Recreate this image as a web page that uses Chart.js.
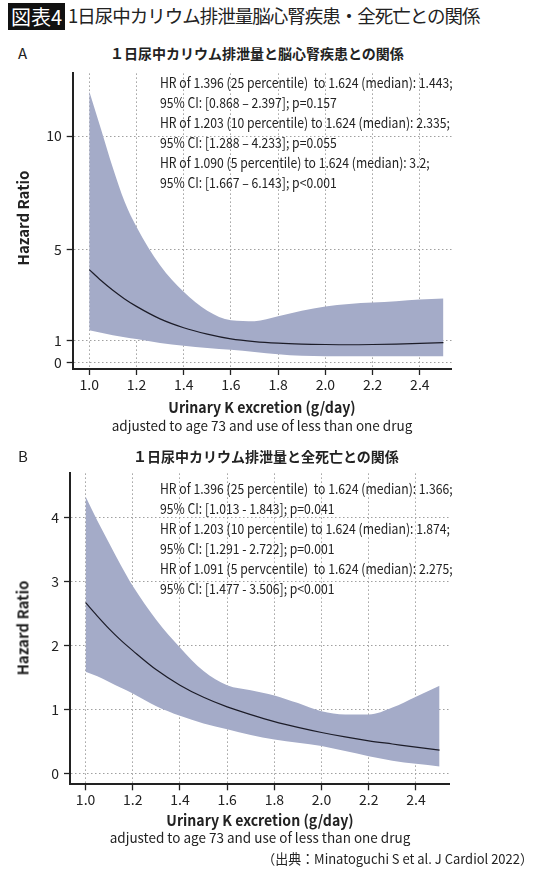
<!DOCTYPE html>
<html>
<head>
<meta charset="utf-8">
<script src="https://cdn.jsdelivr.net/npm/chart.js@4.4.0/dist/chart.umd.min.js"></script>
<style>
  body { margin: 0; background: #fff; }
  #page { position: relative; width: 540px; height: 870px; overflow: hidden;
          font-family: "Noto Sans CJK JP", "Noto Sans", sans-serif; color: #222; }
  .t { position: absolute; white-space: nowrap; }
  .box { left: 8px; top: 3px; width: 57px; height: 27px; background: #111; color: #fff;
         font-size: 20px; line-height: 27px; text-align: center; }
  .title { left: 68px; top: 2px; font-size: 18.5px; letter-spacing: -1px; line-height: 27px; }
  .panel { font-size: 15px; line-height: 20px; }
  .sub { font-size: 14px; font-weight: bold; line-height: 20px; }
  .note { font-size: 14px; line-height: 20px; transform: scaleX(0.87); transform-origin: left top; }
  .src { font-size: 13.5px; line-height: 20px; transform: scaleX(0.96); transform-origin: right top; }
  .xt { font-size: 15px; font-weight: bold; line-height: 18px; transform: translateX(-50%) scaleX(0.94); }
  .xs { font-size: 13.5px; line-height: 18px; transform: translateX(-50%); }
  .yt { font-size: 15px; font-weight: bold; transform: translate(-50%, -50%) rotate(-90deg); }
  canvas { position: absolute; left: 0; }
</style>
</head>
<body>
<div id="page">
  <div class="t box">図表4</div>
  <div class="t title">1日尿中カリウム排泄量脳心腎疾患・全死亡との関係</div>

  <div class="t panel" style="left:18px; top:43px;">A</div>
  <div class="t sub" style="left:110px; top:43px;">１日尿中カリウム排泄量と脳心腎疾患との関係</div>
  <canvas id="chartA" width="540" height="340" style="top:60px;"></canvas>
  <div class="t note" style="left:160px; top:72px;">
    HR of 1.396 (25 percentile)&nbsp; to 1.624 (median): 1.443;<br>
    95% CI: [0.868 – 2.397]; p=0.157<br>
    HR of 1.203 (10 percentile) to 1.624 (median): 2.335;<br>
    95% CI: [1.288 – 4.233]; p=0.055<br>
    HR of 1.090 (5 percentile) to 1.624 (median): 3.2;<br>
    95% CI: [1.667 – 6.143]; p&lt;0.001
  </div>
  <div class="t yt" style="left:22px; top:218px;">Hazard Ratio</div>
  <div class="t xt" style="left:262px; top:398px;">Urinary K excretion (g/day)</div>
  <div class="t xs" style="left:262px; top:416px;">adjusted to age 73 and use of less than one drug</div>

  <div class="t panel" style="left:18px; top:446px;">B</div>
  <div class="t sub" style="left:133px; top:446px;">１日尿中カリウム排泄量と全死亡との関係</div>
  <canvas id="chartB" width="540" height="360" style="top:460px;"></canvas>
  <div class="t note" style="left:160px; top:478px;">
    HR of 1.396 (25 percentile)&nbsp; to 1.624 (median): 1.366;<br>
    95% CI: [1.013 - 1.843]; p=0.041<br>
    HR of 1.203 (10 percentile) to 1.624 (median): 1.874;<br>
    95% CI: [1.291 - 2.722]; p=0.001<br>
    HR of 1.091 (5 pervcentile)&nbsp; to 1.624 (median): 2.275;<br>
    95% CI: [1.477 - 3.506]; p&lt;0.001
  </div>
  <div class="t yt" style="left:22px; top:628px;">Hazard Ratio</div>
  <div class="t xt" style="left:260px; top:811px;">Urinary K excretion (g/day)</div>
  <div class="t xs" style="left:260px; top:828px;">adjusted to age 73 and use of less than one drug</div>
  <div class="t src" style="right:7px; top:848px;">（出典：Minatoguchi S et al. J Cardiol 2022）</div>
</div>

<script>
// urinary K excretion (g/day) where the curves were read
const potassium = [1.0, 1.05, 1.1, 1.15, 1.2, 1.3, 1.4, 1.5, 1.6, 1.7, 1.8, 1.9, 2.0, 2.1, 2.2, 2.3, 2.4, 2.5];
const xTicks = [1.0, 1.2, 1.4, 1.6, 1.8, 2.0, 2.2, 2.4];

// A: cerebro-cardio-renal disease
const hrA    = [4.11, 3.63, 3.2, 2.82, 2.49, 1.94, 1.55, 1.27, 1.06, 0.94, 0.87, 0.83, 0.81, 0.80, 0.81, 0.83, 0.86, 0.89];
const upperA = [11.97, 10.3, 8.6, 7.1, 6.0, 4.3, 3.13, 2.3, 1.88, 1.84, 2.05, 2.3, 2.49, 2.6, 2.66, 2.72, 2.79, 2.84];
const lowerA = [1.44, 1.33, 1.22, 1.13, 1.05, 0.88, 0.76, 0.66, 0.58, 0.48, 0.38, 0.31, 0.29, 0.29, 0.29, 0.29, 0.29, 0.29];
const yTicksA = [0, 1, 5, 10];

// B: all-cause death
const hrB    = [2.67, 2.46, 2.26, 2.08, 1.92, 1.62, 1.38, 1.19, 1.04, 0.92, 0.81, 0.72, 0.64, 0.57, 0.51, 0.46, 0.41, 0.365];
const upperB = [4.33, 3.95, 3.6, 3.25, 2.93, 2.4, 1.97, 1.6, 1.38, 1.3, 1.22, 1.1, 0.97, 0.92, 0.92, 1.03, 1.2, 1.37];
const lowerB = [1.59, 1.52, 1.43, 1.34, 1.25, 1.05, 0.9, 0.78, 0.69, 0.6, 0.53, 0.48, 0.43, 0.35, 0.27, 0.2, 0.15, 0.11];
const yTicksB = [0, 1, 2, 3, 4];

const band = '#a4abc8';
const ink = '#222';
const pts = arr => potassium.map((x, i) => ({ x: x, y: arr[i] }));

function makeChart(id, hr, upper, lower, yTicks, box) {
    new Chart(document.getElementById(id), {
        type: 'line',
        data: {
            datasets: [
                { data: pts(hr), borderColor: '#1c1c28', borderWidth: 1.2, fill: false },
                { data: pts(upper), borderColor: 'transparent', borderWidth: 0, backgroundColor: band, fill: '+1' },
                { data: pts(lower), borderColor: 'transparent', borderWidth: 0, fill: false }
            ]
        },
        options: {
            responsive: false,
            animation: false,
            events: [],
            layout: { padding: { top: box.top, right: box.right, left: 0, bottom: 0 } },
            elements: { point: { radius: 0 }, line: { cubicInterpolationMode: 'monotone' } },
            plugins: { legend: { display: false }, tooltip: { enabled: false } },
            scales: {
                x: {
                    type: 'linear',
                    min: box.xMin,
                    max: box.xMax,
                    afterBuildTicks: axis => { axis.ticks = xTicks.map(v => ({ value: v })); },
                    afterFit: axis => { axis.height = box.xHeight; },
                    ticks: { callback: v => v.toFixed(1), color: ink, font: { size: 14, family: 'Noto Sans CJK JP' }, padding: 1, maxRotation: 0, autoSkip: false },
                    grid: { color: '#a0a0a0', lineWidth: 1, tickLength: 6, tickColor: ink, tickWidth: 1.3, tickBorderDash: [] },
                    border: { color: ink, width: 2, dash: [1.5, 2.5] }
                },
                y: {
                    min: box.yMin,
                    max: box.yMax,
                    afterBuildTicks: axis => { axis.ticks = yTicks.map(v => ({ value: v })); },
                    afterFit: axis => { axis.width = box.left; },
                    ticks: { color: ink, font: { size: 14, family: 'Noto Sans CJK JP' }, padding: 5, autoSkip: false },
                    grid: { color: '#a0a0a0', lineWidth: 1, tickLength: 6, tickColor: ink, tickWidth: 1.3, tickBorderDash: [] },
                    border: { color: ink, width: 2, dash: [1.5, 2.5] }
                }
            }
        }
    });
}

makeChart('chartA', hrA, upperA, lowerA, yTicksA,
    { top: 6.7, right: 88.3, left: 72.7, xHeight: 31, xMin: 0.93, xMax: 2.535, yMin: -0.27, yMax: 12.76 });
makeChart('chartB', hrB, upperB, lowerB, yTicksB,
    { top: 13.3, right: 91, left: 70, xHeight: 35.7, xMin: 0.934, xMax: 2.54, yMin: -0.17, yMax: 4.69 });
</script>
</body>
</html>
